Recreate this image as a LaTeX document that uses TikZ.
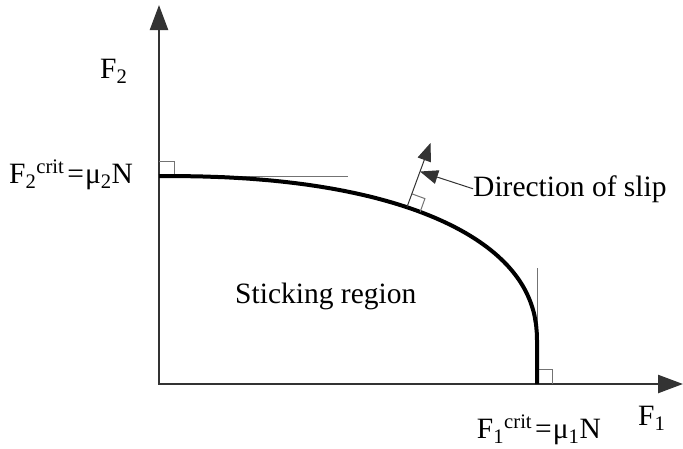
\documentclass[tikz,border=0pt]{standalone}
\usepackage{fontspec}
\setmainfont{Liberation Serif}
\usetikzlibrary{arrows.meta}
\begin{document}
\begin{tikzpicture}[x=1pt,y=-1pt,
  axis/.style={line width=2.4pt,draw=black!80,line cap=rect,-{Triangle[length=25pt,width=18pt]}},
  curve/.style={line width=4pt,draw=black,line join=round},
  thinline/.style={line width=1pt,draw=black!55},
  slip/.style={line width=1pt,draw=black!80,-{Triangle[length=18pt,width=14pt]}},
  lbl/.style={inner sep=0pt,font=\fontsize{29.5}{34}\selectfont}]
\useasboundingbox (0,0) rectangle (683,448);
% axes
\coordinate (O) at (159,384);
\coordinate (ytip) at (159,5);
\coordinate (xtip) at (683,384);
\draw[axis] (O) -- (ytip);
\draw[axis] (O) -- (xtip);
% tangents and right angles
\coordinate (top) at (159,176);
\coordinate (htan) at (348,176);
\coordinate (bot) at (537,384);
\coordinate (vtan) at (537,268);
\draw[thinline] (top) -- (htan);
\draw[thinline] (bot) -- (vtan);
\draw[thinline] (159,161) -- (174,161) -- (174,176);
\draw[thinline] (537,369) -- (552,369) -- (552,384);
% limit curve
\coordinate (cend) at (537,343);
\draw[curve] (bot) -- (cend) -- plot[domain=0.3:89.7,samples=150,variable=\s]
  ({159+378*exp(0.8696*ln(cos(\s)))},{343-167*exp(0.8696*ln(sin(\s)))}) -- (top);
% direction of slip
\coordinate (foot) at (407,207);
\coordinate (tip1) at (430.5,143.0);
\coordinate (tip2) at (420.0,171.5);
\draw[thinline] (411.8,193.8) -- (424.9,198.6) -- (420.2,211.8);
\draw[slip] (foot) -- (tip1);
% labels
\node[lbl,anchor=base west] (f2) at (100,78) {F\textsubscript{2}};
\node[lbl,anchor=base west] (f2c) at (9,183) {F\textsubscript{2}\textsuperscript{crit}\hspace{3pt}=\hspace{1pt}μ\textsubscript{2}N};
\node[lbl,anchor=base west] (dir) at (473,196) {Direction of slip};
\node[lbl,anchor=base west] (stick) at (235,303) {Sticking region};
\node[lbl,anchor=base east] (f1c) at (601,438) {F\textsubscript{1}\textsuperscript{crit}\hspace{3pt}=\hspace{1pt}μ\textsubscript{1}N};
\node[lbl,anchor=base west] (f1) at (638,425) {F\textsubscript{1}};
\draw[slip] (dir.west) -- (tip2);
\end{tikzpicture}
\end{document}
